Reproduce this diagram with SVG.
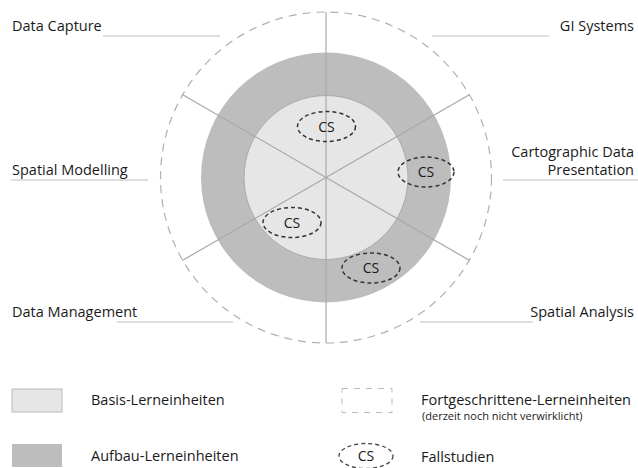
<svg xmlns="http://www.w3.org/2000/svg" width="638" height="468" viewBox="0 0 638 468">
<style>
text{font-family:"Open Sans","Liberation Sans",sans-serif;fill:#1a1a1a;}
.lbl{font-size:14.5px;}
.r{text-anchor:end;}
.lead{stroke:#bdbdbd;stroke-width:1;fill:none;}
.ray{stroke:#a8a8a8;stroke-width:1.2;fill:none;}
.cs{fill:none;stroke:#333;stroke-width:1.5;stroke-dasharray:4 3;}
.cst{font-size:14px;text-anchor:middle;}
</style>
<rect width="638" height="468" fill="#fff"/>
<g id="rings">
<circle id="advanced" cx="326" cy="177.5" r="165.5" fill="none" stroke="#b0b0b0" stroke-width="1.2" stroke-dasharray="8 6"/>
<circle id="aufbau" cx="326" cy="177.5" r="125" fill="#bdbdbd"/>
<circle id="basis" cx="326" cy="177.5" r="82" fill="#e6e6e6" stroke="#aaa" stroke-width="1"/>
</g>
<g id="connectors">
<line class="ray" x1="326" y1="12" x2="326" y2="343"/>
<line class="ray" x1="326" y1="177.5" x2="182.3" y2="94.5"/>
<line class="ray" x1="326" y1="177.5" x2="469.7" y2="94.5"/>
<line class="ray" x1="326" y1="177.5" x2="182.3" y2="260.5"/>
<line class="ray" x1="326" y1="177.5" x2="469.7" y2="260.5"/>
<line class="lead" x1="103" y1="36" x2="220" y2="36"/>
<line class="lead" x1="11" y1="180" x2="148" y2="180"/>
<line class="lead" x1="117" y1="322" x2="233" y2="322"/>
<line class="lead" x1="432" y1="36" x2="549" y2="36"/>
<line class="lead" x1="503" y1="180" x2="638" y2="180"/>
<line class="lead" x1="420" y1="322" x2="533" y2="322"/>
</g>
<g id="cs1"><ellipse class="cs" cx="326.5" cy="126.5" rx="29" ry="15"/><text class="cst" x="326.5" y="131.5">CS</text></g>
<g id="cs2"><ellipse class="cs" cx="426" cy="172" rx="28" ry="15"/><text class="cst" x="426" y="177">CS</text></g>
<g id="cs3"><ellipse class="cs" cx="292" cy="222.5" rx="29" ry="15"/><text class="cst" x="292" y="227.5">CS</text></g>
<g id="cs4"><ellipse class="cs" cx="371" cy="268" rx="29" ry="15"/><text class="cst" x="371" y="273">CS</text></g>
<g id="n-datacapture"><text class="lbl" x="12" y="31">Data Capture</text></g>
<g id="n-spatialmodelling"><text class="lbl" x="12" y="175">Spatial Modelling</text></g>
<g id="n-datamanagement"><text class="lbl" x="12" y="317">Data Management</text></g>
<g id="n-gisystems"><text class="lbl r" x="634" y="31">GI Systems</text></g>
<g id="n-cartographic"><text class="lbl r" x="634" y="157">Cartographic Data</text><text class="lbl r" x="634" y="175">Presentation</text></g>
<g id="n-spatialanalysis"><text class="lbl r" x="634" y="317">Spatial Analysis</text></g>
<g id="legend">
<rect x="12" y="389" width="50" height="23" fill="#e6e6e6" stroke="#bbb" stroke-width="1"/>
<text class="lbl" x="91" y="405">Basis-Lerneinheiten</text>
<rect x="12" y="444" width="50" height="23" fill="#bdbdbd"/>
<text class="lbl" x="91" y="461">Aufbau-Lerneinheiten</text>
<rect x="342" y="388.5" width="50" height="24" fill="none" stroke="#bbb" stroke-width="1" stroke-dasharray="6 6"/>
<text class="lbl" x="421" y="405">Fortgeschrittene-Lerneinheiten</text>
<text x="422" y="419.5" style="font-size:11px">(derzeit noch nicht verwirklicht)</text>
<ellipse cx="366" cy="456" rx="27" ry="12.5" fill="none" stroke="#444" stroke-width="1.3" stroke-dasharray="4 3"/>
<text class="cst" x="366" y="461">CS</text>
<text class="lbl" x="421" y="462">Fallstudien</text>
</g>
</svg>
